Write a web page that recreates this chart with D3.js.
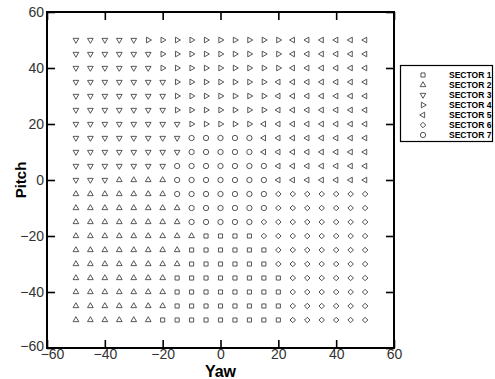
<!DOCTYPE html>
<html>
<head>
<meta charset="utf-8">
<script src="https://cdn.jsdelivr.net/npm/d3@7"></script>
<style>
  body { margin: 0; background: #fff; }
  text { font-family: Arial, "Liberation Sans", sans-serif; }
</style>
</head>
<body>
<div id="chart"></div>
<script>
// grid of yaw / pitch samples
const yawValues = [-50, -45, -40, -35, -30, -25, -20, -15, -10, -5, 0, 5, 10, 15, 20, 25, 30, 35, 40, 45, 50];
const pitchValues = [50, 45, 40, 35, 30, 25, 20, 15, 10, 5, 0, -5, -10, -15, -20, -25, -30, -35, -40, -45, -50];

// sector number for each point, one string per pitch row (yaw -50 .. 50)
const sectorRows = [
  "333334444444444555555",
  "333333444444444555555",
  "333333444444444555555",
  "333333344444445555555",
  "333333344444445555555",
  "333333344444445555555",
  "333333334444455555555",
  "333333337777755555555",
  "333333337777755555555",
  "333333377777775555555",
  "333222277777775555555",
  "222222277777776666666",
  "222222227777776666666",
  "222222227777766666666",
  "222222222111166666666",
  "222222221111116666666",
  "222222221111116666666",
  "222222211111111666666",
  "222222211111111666666",
  "222222211111111666666",
  "222222111111111666666"
];

const sectorNames = ["SECTOR 1", "SECTOR 2", "SECTOR 3", "SECTOR 4", "SECTOR 5", "SECTOR 6", "SECTOR 7"];
const axisTicks = [-60, -40, -20, 0, 20, 40, 60];

const W = 495, H = 379;
const plot = { left: 47, right: 394, top: 12, bottom: 348 };

const svg = d3.select("#chart").append("svg")
    .attr("width", W)
    .attr("height", H);

const x = d3.scaleLinear().domain([-60, 60]).range([plot.left, plot.right]);
const y = d3.scaleLinear().domain([-60, 60]).range([plot.bottom, plot.top]);

// marker shape per sector
const markerPath = {
  1: d3.symbol(d3.symbolSquare, 17)(),
  2: d3.symbol(d3.symbolTriangle, 14)(),
  3: d3.symbol(d3.symbolTriangle, 14)(),
  4: d3.symbol(d3.symbolTriangle, 14)(),
  5: d3.symbol(d3.symbolTriangle, 14)(),
  6: d3.symbol(d3.symbolSquare, 15)(),
  7: d3.symbol(d3.symbolCircle, 22)()
};
const markerRotate = { 1: 0, 2: 0, 3: 180, 4: 90, 5: -90, 6: 45, 7: 0 };

// flatten the grid
const points = [];
pitchValues.forEach(function(p, i) {
  yawValues.forEach(function(yw, j) {
    points.push({ yaw: yw, pitch: p, sector: +sectorRows[i][j] });
  });
});

svg.append("g")
  .selectAll("path")
  .data(points)
  .enter().append("path")
  .attr("d", d => markerPath[d.sector])
  .attr("transform", d => `translate(${x(d.yaw)},${y(d.pitch)}) rotate(${markerRotate[d.sector]})`)
  .attr("fill", "none")
  .attr("stroke", "#444")
  .attr("stroke-width", 0.9);

// axes, ticks pointing inward
function styleAxis(g) {
  g.select(".domain").remove();
  g.selectAll(".tick line").attr("stroke", "#000").attr("stroke-width", 1.6);
  g.selectAll(".tick text").attr("fill", "#333").style("font-size", "14px");
}

svg.append("g")
  .attr("transform", `translate(0,${plot.bottom})`)
  .call(d3.axisBottom(x).tickValues(axisTicks).tickSize(-8).tickPadding(1))
  .call(styleAxis)
  .call(g => g.selectAll(".tick text").filter(d => d === -60).attr("dx", 5));

svg.append("g")
  .attr("transform", `translate(${plot.left},0)`)
  .call(d3.axisLeft(y).tickValues(axisTicks).tickSize(-8).tickPadding(3))
  .call(styleAxis)
  .call(g => g.selectAll(".tick text").filter(d => d === -60).attr("dy", "0.2em"));

svg.append("g")
  .attr("transform", `translate(0,${plot.top})`)
  .call(d3.axisTop(x).tickValues(axisTicks).tickSize(-8).tickFormat(""))
  .call(styleAxis);

svg.append("g")
  .attr("transform", `translate(${plot.right},0)`)
  .call(d3.axisRight(y).tickValues(axisTicks).tickSize(-8).tickFormat(""))
  .call(styleAxis);

// frame
svg.append("rect")
  .attr("x", plot.left)
  .attr("y", plot.top)
  .attr("width", plot.right - plot.left)
  .attr("height", plot.bottom - plot.top)
  .attr("fill", "none")
  .attr("stroke", "#000")
  .attr("stroke-width", 2);

// axis titles
svg.append("text")
  .attr("x", (plot.left + plot.right) / 2)
  .attr("y", 377)
  .attr("text-anchor", "middle")
  .style("font-size", "16px")
  .style("font-weight", "bold")
  .text("Yaw");

svg.append("text")
  .attr("transform", `translate(26,${(plot.top + plot.bottom) / 2}) rotate(-90)`)
  .attr("text-anchor", "middle")
  .style("font-size", "15px")
  .style("font-weight", "bold")
  .text("Pitch");

// legend
const legend = svg.append("g");
legend.append("rect")
  .attr("x", 400.5)
  .attr("y", 65.5)
  .attr("width", 92)
  .attr("height", 76)
  .attr("fill", "#fff")
  .attr("stroke", "#000")
  .attr("stroke-width", 1.2);

const item = legend.selectAll("g.item")
  .data(sectorNames)
  .enter().append("g")
  .attr("class", "item")
  .attr("transform", (d, i) => `translate(0,${75 + i * 10})`);

item.append("path")
  .attr("d", (d, i) => markerPath[i + 1])
  .attr("transform", (d, i) => `translate(423,0) rotate(${markerRotate[i + 1]})`)
  .attr("fill", "none")
  .attr("stroke", "#444")
  .attr("stroke-width", 0.9);

item.append("text")
  .attr("x", 449)
  .attr("dy", "0.35em")
  .style("font-size", "8.5px")
  .style("font-weight", "bold")
  .text(d => d);
</script>
</body>
</html>
